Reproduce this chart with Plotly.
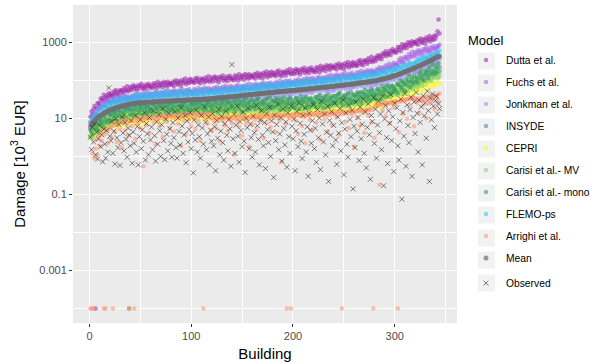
import plotly.graph_objects as go

# Modelled and observed damage per building [10^3 EUR], buildings sorted by mean damage
# (zero damage is stored as 0.0001 so that it can be shown on the log axis)

MEAN = [
    6.3, 7, 7.6, 8.2, 8.8, 9.4, 10, 10.6, 11, 11.6, 12, 12.6, 13, 13.6, 14, 14.6, 15, 15.6, 16, 16.6,
    17, 17.4, 17.8, 18.2, 18.6, 19, 19.4, 19.8, 20, 20.5, 21, 21.3, 21.6, 21.9, 22.2, 22.5, 22.8, 23, 23.4, 23.7,
    24, 24.2, 24.4, 24.6, 24.8, 25, 25.2, 25.4, 25.6, 25.8, 26, 26.1, 26.2, 26.3, 26.4, 26.5, 26.6, 26.7, 26.8, 26.9,
    27, 27.1, 27.2, 27.3, 27.4, 27.5, 27.6, 27.7, 27.8, 27.9, 28, 28.1, 28.2, 28.3, 28.4, 28.5, 28.6, 28.7, 28.8, 28.9,
    29, 29.1, 29.2, 29.3, 29.4, 29.5, 29.6, 29.7, 29.8, 29.9, 30, 30.1, 30.2, 30.3, 30.4, 30.5, 30.6, 30.7, 30.8, 30.9,
    31, 31.1, 31.2, 31.3, 31.4, 31.5, 31.6, 31.7, 31.8, 31.9, 32, 32.1, 32.2, 32.3, 32.4, 32.5, 32.6, 32.8, 33, 33.2,
    33.4, 33.6, 33.8, 34, 34.2, 34.4, 34.6, 34.8, 35, 35.2, 35.4, 35.6, 35.8, 36, 36.2, 36.4, 36.6, 36.8, 37, 37.2,
    37.4, 37.6, 37.8, 38, 38.3, 38.6, 38.9, 39.2, 39.5, 39.8, 40, 40.3, 40.6, 40.9, 41.2, 41.5, 41.8, 42, 42.3, 42.6,
    42.9, 43.2, 43.5, 43.8, 44, 44.3, 44.6, 44.9, 45.2, 45.5, 45.8, 46, 46.3, 46.6, 46.9, 47.2, 47.5, 47.8, 48, 48.3,
    48.6, 48.9, 49.2, 49.5, 49.8, 50, 50.3, 50.6, 50.9, 51.2, 51.5, 51.8, 52, 52.3, 52.6, 52.9, 53.2, 53.5, 53.8, 54,
    54.3, 54.6, 54.9, 55.2, 55.5, 55.8, 56, 56.4, 56.8, 57.2, 57.6, 58, 58.4, 58.8, 59.2, 59.6, 60, 60.4, 60.8, 61.2,
    61.6, 62, 62.4, 62.8, 63.2, 63.6, 64, 64.4, 64.8, 65.2, 65.6, 66, 66.5, 67, 67.5, 68, 68.5, 69, 69.5, 70,
    70.5, 71, 71.5, 72, 72.5, 73, 73.5, 74, 74.5, 75, 75.6, 76.2, 76.8, 77.4, 78, 78.6, 79.2, 79.8, 80.4, 81,
    81.7, 82.4, 83.1, 83.8, 84.5, 85.2, 85.9, 86.6, 87.3, 88, 88.8, 89.6, 90.4, 91.2, 92, 93, 94, 95, 96, 97,
    98, 99, 100, 101.5, 103, 104.5, 106, 107.5, 109, 111, 113, 115, 117, 119, 121, 123, 125, 127, 130, 133,
    136, 139, 142, 145, 148, 151, 155, 159, 163, 167, 171, 175, 179, 184, 189, 194, 199, 204, 209, 215,
    221, 227, 233, 240, 247, 254, 261, 268, 276, 284, 292, 301, 310, 320, 330, 340, 350, 362, 375, 390,
    400, 410, 420, 430,
]

DUTTA = [
    11, 15.1, 12.6, 17.3, 21.2, 0.0001, 18.5, 25.1, 25.3, 21.9, 33.4, 29.1, 34, 41.5, 30.1, 35.3, 40.7, 34.6, 45.6, 38,
    44.9, 40.8, 38.2, 51.1, 45.3, 55.6, 42.5, 49.6, 41.2, 55.6, 50, 55, 45.4, 63, 51.4, 56.2, 69.8, 51.1, 56.7, 66.6,
    54.6, 65, 73.8, 57.9, 69.9, 63.3, 53.5, 74.2, 62.9, 70.7, 80.8, 59, 68.3, 64, 77, 58.7, 71.8, 81.5, 69.4, 64.1,
    73, 62.5, 84.2, 69.9, 79.4, 61.8, 91, 74, 68.4, 85, 79.3, 65.7, 92.1, 75.2, 86, 69.7, 91.1, 74.6, 84.8, 81.2,
    76.4, 93.6, 70.8, 89.1, 100.9, 82.8, 76.4, 95.3, 89, 71.8, 102.7, 84.5, 93.3, 111.3, 79, 90.7, 102.4, 85.3, 110.4, 90.3,
    102.7, 91.7, 84.5, 111.3, 97.1, 117.3, 88.3, 101.7, 83.2, 110.8, 98.3, 106.9, 87, 119.2, 96.2, 103.9, 127.4, 92.3, 101.3, 117.7,
    93.3, 110.8, 125.3, 97.9, 117.8, 106.4, 89.5, 124, 104.7, 117.3, 133.6, 97.3, 112.3, 104.9, 125.9, 95.7, 116.7, 132.1, 112, 103.2,
    117, 100, 134.9, 111.8, 126.7, 98.6, 145, 117.8, 108.7, 135, 125.8, 104.1, 145.8, 118.9, 135.9, 110.1, 143.6, 117.5, 133.5, 127.7,
    119.6, 146.5, 110.5, 139, 157.2, 128.5, 118.5, 147.7, 137.7, 111, 158.6, 130.4, 143.7, 171.2, 121.3, 139, 156.9, 130.5, 168.7, 137.8,
    156.2, 139.7, 128.8, 170.5, 148.5, 179.9, 135.5, 156.1, 128, 170.5, 150.4, 163.8, 133.5, 183.3, 159.1, 161, 197.6, 143.4, 157.4, 183.2,
    146.1, 174, 197.1, 154.5, 186.5, 168.9, 142.4, 197.5, 167.3, 188, 214.3, 156.5, 181.2, 169.6, 203.9, 155.3, 189.9, 215.6, 183, 169.1,
    191, 163.9, 221.8, 184.6, 210.1, 163.9, 242, 197.4, 182.7, 227.8, 213.1, 177, 248.6, 203.6, 233.4, 189.5, 248.1, 203.7, 232.1, 222.8,
    207.9, 255.1, 192.9, 243, 275.2, 225.5, 208.3, 260, 242.7, 196.1, 280.5, 231, 254.9, 304.1, 216, 247.7, 280.1, 233.3, 302.1, 247,
    280.3, 253.6, 236.5, 315.4, 278.8, 340.9, 259.3, 302.2, 250, 336.7, 301.7, 331.6, 272.6, 377.7, 307.4, 335.4, 415.2, 303.8, 336.1, 394,
    316.8, 387.5, 450.8, 362.1, 447.4, 414.7, 357.4, 506.7, 438, 502.1, 583.6, 434, 511.6, 487.5, 595.8, 461.6, 573.3, 660.9, 569.8, 534,
    620, 544, 752, 639, 742, 590, 888, 737, 694, 880, 836, 706, 1006, 836, 972, 800, 1062, 883, 1019, 990,
    920, 1138, 867, 1099, 1254, 1036, 964, 1211, 1137, 925, 1332, 1104, 1225, 1470, 1050, 1212, 1378, 1154, 1502, 1235,
    1500, 1950, 4000, 1700,
]

FUCHS = [
    7.9, 10.4, 12.9, 10.9, 14.2, 13.7, 12.3, 18.1, 16.2, 19.6, 24, 18.3, 22, 21.4, 26.6, 21, 26.5, 31.1, 27.2, 25.8,
    30, 25.8, 34.8, 29, 33, 25.7, 37.9, 30.8, 28.6, 35.6, 33.3, 27.6, 38.8, 31.7, 36.4, 29.5, 38.6, 31.7, 36.1, 34.7,
    32.2, 39.5, 29.9, 37.7, 42.8, 35.1, 32.5, 40.5, 37.9, 30.6, 43.9, 36.2, 40, 47.7, 33.9, 38.9, 44.1, 36.8, 47.6, 39,
    43.9, 39.2, 36.1, 47.7, 41.7, 50.3, 37.9, 43.7, 35.8, 47.7, 42.3, 46.1, 37.6, 51.5, 41.6, 44.9, 55.1, 40, 43.9, 51.1,
    40.5, 48.2, 54.4, 42.6, 51.3, 46.4, 39, 54, 45.7, 51.3, 58.3, 42.5, 49.2, 45.9, 55.2, 41.9, 51.2, 58.1, 49.2, 45.4,
    51, 43.6, 58.7, 48.7, 55.2, 42.9, 63.1, 51.2, 47.3, 58.7, 54.7, 45.3, 63.4, 51.7, 59.1, 47.8, 62.4, 51.1, 57.9, 55.4,
    51.5, 63.1, 47.5, 59.6, 67.4, 55, 50.7, 63, 58.7, 47.3, 67.4, 55.4, 61, 72.5, 51.3, 58.7, 66.2, 55.1, 71, 58,
    65.3, 58.3, 53.7, 70.8, 61.9, 74.7, 56.2, 64.9, 53, 70.7, 62.8, 68.4, 55.6, 76.3, 61.6, 66.5, 81.6, 59.2, 64.9, 75.5,
    59.8, 71.2, 80.6, 63.2, 76.2, 69, 58.1, 80.6, 68.2, 76.6, 87.2, 63.7, 73.7, 69, 82.8, 63.1, 77.1, 87.5, 74.2, 68.5,
    78, 66.7, 89.9, 74.6, 84.7, 65.9, 97, 78.9, 72.8, 90.5, 84.4, 69.9, 97.9, 80, 91.4, 74, 96.7, 79.2, 90, 86.1,
    81, 99.2, 75, 94.4, 106.8, 87.6, 80.8, 100.7, 94, 75.9, 108.4, 89.2, 98.5, 117.4, 83.2, 95.6, 107.9, 89.8, 116.3, 95,
    107, 95.9, 88.7, 117.2, 102.8, 124.6, 94.1, 108.7, 89.3, 119.4, 106.2, 115.9, 94.7, 130.3, 105.4, 114.2, 140.5, 102.2, 112.4, 131,
    105.6, 125.8, 142.7, 113.8, 134.2, 122.5, 103.3, 143.5, 121.6, 135.7, 156, 114.1, 132, 123.7, 148.5, 113.4, 137.7, 158.7, 134.8, 123.7,
    140, 120.3, 162.9, 135.7, 154.7, 120.9, 178.6, 145.8, 135.1, 168.6, 157.8, 131.2, 184.5, 151.2, 173.4, 141, 184.9, 151.9, 173.2, 166.3,
    156.4, 195.1, 149.9, 191.7, 220.4, 183.5, 171.9, 217.5, 205.7, 168.4, 243.9, 203.3, 227.1, 274.1, 196.9, 228.5, 261.1, 219.9, 287.6, 237.5,
    278.2, 259, 248.2, 339.6, 307.4, 384.6, 298.9, 355.4, 299.6, 411.1, 374.7, 418.8, 349.9, 492.1, 406.2, 449.5, 563.8, 417.7, 467.9, 555,
    448.8, 541.3, 621.3, 492.9, 601.8, 551.3, 470, 659.6, 564.5, 641, 738.4, 544.4, 636.3, 601.5, 729.7, 561, 692, 792.4, 678.5, 631.9,
    740, 800, 760, 880,
]

JONKMAN = [
    5, 4.6, 6.6, 5.8, 7, 5.7, 8.9, 7.6, 7.3, 9.4, 9.1, 7.7, 11.2, 9.5, 11.1, 9.3, 12.4, 10.4, 12.2, 11.9,
    12.9, 16, 12.2, 15.5, 17.7, 14.7, 13.6, 17.2, 16.2, 13.2, 19, 15.8, 17.5, 21.1, 15.1, 17.4, 19.8, 16.7, 21.6, 17.9,
    21.9, 19.5, 17.8, 23.4, 20.3, 24.4, 18.2, 20.9, 17, 22.6, 19.9, 21.5, 17.4, 23.8, 19.1, 20.5, 25, 18, 19.7, 22.8,
    20.2, 23.9, 26.9, 20.9, 25.1, 22.5, 18.9, 26, 21.9, 24.4, 27.6, 20, 23, 21.4, 25.5, 19.3, 23.5, 26.5, 22.3, 20.5,
    25, 21.3, 28.5, 23.5, 26.5, 20.5, 30, 24.3, 22.3, 27.5, 25.5, 21, 29.3, 23.8, 27, 21.8, 28.3, 23, 26, 24.8,
    24.8, 30.2, 22.7, 28.4, 31.9, 25.9, 23.8, 29.4, 27.3, 21.9, 31, 25.4, 27.8, 32.9, 23.2, 26.5, 29.7, 24.6, 31.6, 25.7,
    32.1, 28.5, 26.1, 34.2, 29.7, 35.7, 26.7, 30.6, 24.9, 33, 29.1, 31.5, 25.5, 34.8, 27.9, 30, 36.6, 26.4, 28.8, 33.3,
    30.8, 36.4, 41, 31.9, 38.2, 34.3, 28.7, 39.6, 33.3, 37.1, 42, 30.5, 35, 32.6, 38.9, 29.4, 35.7, 40.3, 34, 31.2,
    40.5, 34.4, 46.2, 38.1, 42.9, 33.2, 48.6, 39.3, 36, 44.6, 41.3, 34, 47.4, 38.5, 43.7, 35.2, 45.8, 37.3, 42.1, 40.1,
    42.3, 51.5, 38.6, 48.3, 54.3, 44.2, 40.5, 50.1, 46.5, 37.3, 52.9, 43.2, 47.4, 56.1, 39.6, 45.1, 50.6, 41.9, 53.8, 43.7,
    55.6, 49.4, 45.2, 59.3, 51.5, 61.9, 46.3, 53, 43.2, 57.2, 50.4, 54.6, 44.2, 60.3, 48.4, 52, 63.4, 45.8, 49.9, 57.7,
    51.9, 61.4, 69, 53.7, 64.3, 57.8, 48.4, 66.7, 56, 62.5, 70.8, 51.3, 59, 54.9, 65.5, 49.6, 60.2, 67.9, 57.2, 52.5,
    68, 57.8, 77.5, 63.9, 72.1, 55.8, 81.6, 66, 60.5, 74.8, 69.4, 57.1, 79.6, 64.6, 73.4, 59.2, 76.8, 62.6, 70.7, 67.3,
    72.7, 88.5, 66.4, 83, 93.2, 75.8, 69.5, 86.1, 79.8, 64, 90.9, 74.3, 81.4, 96.4, 67.9, 77.4, 86.9, 71.9, 92.4, 75,
    90, 81.7, 76.6, 101, 90, 111, 84.6, 99, 81.3, 110, 99, 109, 90, 124, 101, 111, 138, 101, 111, 131,
    102, 125, 144, 116, 142, 131, 113, 159, 138, 157, 182, 136, 159, 152, 184, 143, 177, 204, 176, 164,
    185, 162, 225, 191, 222, 176, 265, 220, 207, 263, 250, 211, 301, 250, 291, 239, 318, 264, 305, 297,
    276, 358, 277, 357,
]

INSYDE = [
    3.4, 5.4, 3.2, 5.4, 7.4, 5.2, 4.6, 7.3, 6.6, 4.6, 9.6, 6.6, 8.3, 12, 6.2, 8.4, 10.9, 7.7, 13.2, 9,
    11.5, 9.2, 7.8, 13.8, 10.5, 15.5, 8.9, 11.9, 7.9, 14, 11.1, 13.2, 8.9, 16.7, 10.8, 12.9, 19.4, 10.2, 12.2, 16.7,
    11.3, 15.7, 19.7, 12, 17.3, 14.1, 9.9, 18.6, 13.1, 16.2, 20.9, 10.9, 14.5, 12.6, 17.8, 10.3, 15.2, 19.1, 13.8, 11.6,
    16.5, 11.9, 21.6, 14.5, 18.5, 11.1, 23.9, 15.7, 13.2, 20.1, 17.3, 11.6, 22.8, 14.9, 19.3, 12.5, 21, 13.9, 17.8, 16.2,
    14.9, 21.9, 12.3, 19.3, 24.5, 16.3, 13.7, 20.7, 17.9, 11.6, 23.3, 15.4, 18.7, 25.9, 13, 16.8, 21, 14.4, 23.8, 15.8,
    21.3, 16.7, 13.9, 24.1, 18.1, 26.3, 14.8, 19.4, 12.8, 22.2, 17.4, 20.4, 13.5, 25, 15.9, 18.7, 27.8, 14.4, 17, 22.9,
    15.2, 21.1, 26.5, 16.2, 23.2, 18.9, 13.3, 25, 17.6, 21.8, 28.1, 14.6, 19.5, 17, 24, 13.8, 20.5, 25.7, 18.5, 15.6,
    20.5, 14.8, 26.9, 18, 23, 13.7, 29.7, 19.5, 16.4, 25, 21.5, 14.4, 28.3, 18.5, 24, 15.6, 26, 17.2, 22.1, 20.1,
    18.4, 27.1, 15.2, 23.9, 30.4, 20.2, 16.9, 25.6, 22.1, 14.3, 28.9, 19.1, 23.2, 32.1, 16.1, 20.8, 26, 17.8, 29.5, 19.5,
    27.3, 21.3, 17.8, 30.8, 23.2, 33.7, 19, 24.9, 16.4, 28.4, 22.3, 26.1, 17.3, 32, 20.4, 23.9, 35.6, 18.5, 21.8, 29.4,
    19.7, 27.2, 34.3, 20.9, 30, 24.4, 17.1, 32.3, 22.7, 28.2, 36.3, 18.9, 25.2, 21.9, 31, 17.9, 26.5, 33.3, 23.9, 20.2,
    27.5, 19.8, 36, 24.2, 30.8, 18.4, 39.9, 26.1, 22, 33.6, 28.9, 19.3, 38, 24.8, 32.2, 20.9, 34.9, 23.1, 29.7, 27,
    26.4, 38.8, 21.7, 34.1, 43.4, 28.8, 24.2, 36.6, 31.6, 20.5, 41.2, 27.3, 33.2, 45.9, 22.9, 29.8, 37.2, 25.4, 42.2, 27.9,
    38, 30.1, 25.3, 44.3, 33.8, 49.4, 28.2, 37.4, 24.8, 43.6, 34.5, 40.7, 27.3, 51, 32.8, 38.9, 58.4, 30.7, 36.4, 49.6,
    32, 45, 57.8, 35.9, 52.2, 43.4, 30.9, 59.1, 42.2, 53.3, 69.7, 36.8, 49.8, 44, 63.1, 36.9, 55.4, 70.6, 51.6, 44,
    56, 41.4, 77.3, 53.3, 69.6, 42.6, 94.5, 63.4, 54.6, 85, 74.9, 51, 102.5, 68.3, 90.6, 60, 102, 68.9, 90.2, 83.3,
    74.8, 114, 66.2, 107.6, 141.4, 97, 83.9, 130.7, 116.3, 77.5, 160.4, 109, 136.1, 193, 98.9, 131.5, 168.2, 117.7, 199.5, 135,
    178, 144, 124, 221,
]

CEPRI = [
    3.7, 3.1, 2.8, 5.1, 4, 6.1, 3.7, 5, 3.5, 6.2, 5.2, 6.3, 4.3, 8.4, 5.5, 6.7, 10.2, 5.5, 6.7, 9.3,
    5.9, 8.2, 10.6, 6.6, 9.5, 8, 5.6, 10.8, 7.7, 9.7, 12.7, 6.7, 9.1, 8, 11.4, 6.7, 10.1, 12.8, 9.4, 8,
    10.5, 7.6, 13.8, 9.2, 11.8, 7, 15.2, 10, 8.4, 12.8, 11, 7.4, 14.5, 9.5, 12.3, 8, 13.3, 8.8, 11.3, 10.3,
    10.2, 15, 8.4, 13.2, 16.8, 11.2, 9.4, 14.2, 12.2, 7.9, 16, 10.6, 12.8, 17.8, 8.9, 11.5, 14.4, 9.8, 16.3, 10.8,
    14.4, 11.3, 9.4, 16.3, 12.3, 17.8, 10, 13.1, 8.6, 15, 11.8, 13.8, 9.1, 16.9, 10.8, 12.6, 18.8, 9.8, 11.5, 15.5,
    10.1, 14, 17.7, 10.8, 15.5, 12.6, 8.8, 16.6, 11.7, 14.6, 18.7, 9.8, 13, 11.3, 16, 9.2, 13.7, 17.2, 12.4, 10.4,
    13.5, 9.7, 17.7, 11.9, 15.1, 9, 19.6, 12.8, 10.8, 16.5, 14.2, 9.5, 18.6, 12.2, 15.8, 10.3, 17.1, 11.3, 14.6, 13.2,
    11.9, 17.5, 9.8, 15.4, 19.6, 13, 10.9, 16.5, 14.3, 9.2, 18.6, 12.3, 15, 20.7, 10.4, 13.4, 16.8, 11.5, 19, 12.6,
    17, 13.3, 11.1, 19.2, 14.5, 21, 11.8, 15.5, 10.2, 17.8, 13.9, 16.3, 10.8, 20, 12.7, 14.9, 22.2, 11.5, 13.6, 18.4,
    12.3, 17.1, 21.5, 13.1, 18.8, 15.3, 10.7, 20.2, 14.2, 17.7, 22.8, 11.9, 15.8, 13.7, 19.4, 11.2, 16.6, 20.9, 15, 12.6,
    16.8, 12.1, 22, 14.8, 18.8, 11.3, 24.4, 16, 13.4, 20.5, 17.6, 11.8, 23.2, 15.1, 19.7, 12.8, 21.3, 14.1, 18.1, 16.5,
    15.1, 22.3, 12.5, 19.6, 24.9, 16.6, 13.9, 21, 18.2, 11.7, 23.7, 15.7, 19, 26.3, 13.2, 17.1, 21.4, 14.6, 24.2, 16,
    23, 18, 15, 26, 19.6, 28.4, 16, 21, 13.8, 24, 18.8, 22, 14.6, 27, 17.2, 20.2, 30, 15.6, 18.4, 24.8,
    16.4, 23, 29.2, 18.1, 26.3, 21.6, 15.4, 29.2, 20.8, 26.2, 34, 17.9, 24.2, 21.2, 30.4, 17.7, 26.5, 33.7, 24.4, 20.8,
    27, 19.8, 36.5, 25, 32.4, 19.7, 43.2, 28.8, 24.6, 38.2, 33.3, 22.5, 45.1, 29.8, 39.3, 25.9, 43.9, 29.4, 38.3, 35.3,
    31.5, 47.6, 27.4, 44.3, 58, 39.5, 34, 52.7, 46.7, 31, 64, 43.3, 53.8, 76.1, 38.9, 51.5, 65.6, 45.8, 77.4, 52.2,
    69, 55.6, 47.8, 85.2, 66, 98.3, 56.8, 76.5, 51.5, 91.9, 73.7, 88.3, 59.9, 113, 73.8, 88.5, 134, 71.2, 85.7, 118,
    78, 108, 136, 83,
]

CARISI_MV = [
    3.1, 4.6, 6.3, 4, 6.1, 5.2, 3.9, 7.7, 5.6, 7.3, 9.8, 5.3, 7.3, 6.6, 9.7, 5.8, 8.9, 11.5, 8.6, 7.4,
    9.5, 7, 13, 8.9, 11.4, 7, 15.4, 10.3, 8.8, 13.7, 11.9, 8.1, 16.1, 10.7, 14.2, 9.3, 15.7, 10.6, 13.8, 12.7,
    12.8, 18.8, 10.5, 16.5, 21, 14, 11.7, 17.7, 15.3, 9.9, 20, 13.2, 16.1, 22.2, 11.1, 14.4, 18, 12.3, 20.4, 13.5,
    19.3, 15.1, 12.6, 21.8, 16.5, 23.9, 13.4, 17.6, 11.6, 20.2, 15.8, 18.5, 12.3, 22.7, 14.4, 17, 25.2, 13.1, 15.5, 20.8,
    13.9, 19.2, 24.2, 14.8, 21.2, 17.3, 12.1, 22.8, 16, 19.9, 25.6, 13.4, 17.8, 15.5, 21.9, 12.6, 18.7, 23.5, 16.9, 14.2,
    18.7, 13.5, 24.5, 16.5, 20.9, 12.5, 27.1, 17.8, 15, 22.8, 19.6, 13.1, 25.8, 16.8, 21.9, 14.2, 23.7, 15.7, 20.2, 18.3,
    16.3, 24, 13.4, 21.1, 26.9, 17.9, 15, 22.7, 19.6, 12.7, 25.5, 16.9, 20.5, 28.4, 14.2, 18.4, 23, 15.7, 26.1, 17.3,
    22.8, 17.8, 14.9, 25.7, 19.4, 28.1, 15.8, 20.8, 13.7, 23.8, 18.6, 21.8, 14.5, 26.7, 17, 20, 29.7, 15.4, 18.2, 24.6,
    16.2, 22.5, 28.3, 17.3, 24.8, 20.2, 14.1, 26.6, 18.7, 23.3, 30, 15.6, 20.8, 18.1, 25.6, 14.8, 21.8, 27.5, 19.8, 16.6,
    21.8, 15.7, 28.6, 19.2, 24.4, 14.6, 31.6, 20.7, 17.4, 26.6, 22.9, 15.3, 30.1, 19.6, 25.5, 16.6, 27.7, 18.3, 23.5, 21.4,
    19.6, 28.8, 16.1, 25.3, 32.2, 21.4, 17.9, 27.1, 23.5, 15.2, 30.6, 20.2, 24.6, 34, 17, 22.1, 27.6, 18.9, 31.3, 20.7,
    28.8, 22.5, 18.8, 32.5, 24.5, 35.5, 20, 26.3, 17.3, 30, 23.5, 27.5, 18.3, 33.8, 21.5, 25.3, 37.5, 19.5, 23, 31,
    21.8, 30.2, 38.1, 23.2, 33.3, 27.2, 19, 35.8, 25.2, 31.4, 40.3, 21, 28, 24.4, 34.4, 19.9, 29.4, 37, 26.6, 22.4,
    31, 22.6, 41.5, 28.2, 36.4, 22, 48.1, 31.9, 27.1, 41.8, 36.4, 24.6, 48.9, 32.2, 42.4, 27.7, 46.9, 31.3, 40.6, 37.2,
    33.2, 49.6, 28.3, 45.2, 58.4, 39.4, 33.6, 51.7, 45.4, 29.8, 60.9, 40.9, 50.5, 70.9, 36, 47.3, 59.9, 41.5, 69.8, 46.8,
    62.1, 49.9, 42.5, 75.5, 58.3, 86.3, 49.8, 66.8, 44.8, 79.6, 63.6, 76, 51.4, 96.9, 63, 75.2, 113.9, 60.3, 72.3, 99.2,
    64, 92.4, 121.3, 76.9, 114.6, 96.9, 70.4, 137, 99.5, 127.9, 169.6, 91, 125, 111.8, 162.5, 96.3, 146.3, 188.6, 139.1, 120,
    155, 114, 205, 139,
]

CARISI_MONO = [
    5.2, 4.3, 3.8, 7.2, 5.7, 8.7, 5.1, 7, 4.8, 8.9, 7.2, 8.8, 6.1, 11.6, 7.7, 9.4, 14.4, 7.7, 9.4, 13.1,
    8.5, 12.1, 15.5, 9.7, 14.2, 11.8, 8.5, 16.3, 11.7, 14.9, 19.4, 10.4, 14, 12.4, 18, 10.5, 15.9, 20.3, 0.0001, 12.7,
    17.2, 12.4, 22.5, 15.1, 19.3, 11.5, 24.9, 16.3, 13.8, 21, 18.1, 12, 23.7, 15.5, 20.1, 13.1, 21.8, 14.4, 18.6, 16.9,
    16.4, 24.1, 13.5, 21.2, 27, 17.9, 15.1, 22.8, 19.7, 12.7, 25.7, 17, 20.7, 28.6, 14.3, 18.5, 23.2, 15.8, 26.2, 17.4,
    23.3, 18.3, 15.2, 26.4, 19.9, 28.8, 16.2, 21.3, 14, 24.4, 19.1, 22.3, 14.8, 27.4, 17.5, 20.5, 30.5, 15.8, 18.7, 25.2,
    16.5, 22.9, 28.8, 17.6, 25.2, 20.6, 14.4, 27.1, 19.1, 23.7, 30.5, 15.9, 21.2, 18.4, 26.1, 15.1, 22.3, 28, 20.1, 17,
    22, 15.8, 28.8, 19.4, 24.6, 14.7, 31.9, 20.9, 17.6, 26.8, 23.1, 15.4, 30.4, 19.8, 25.7, 16.7, 27.9, 18.5, 23.8, 21.6,
    19.5, 28.6, 16, 25.2, 32.1, 21.3, 17.9, 27, 23.4, 15.1, 30.5, 20.2, 24.5, 33.9, 16.9, 22, 27.5, 18.8, 31.1, 20.6,
    27.4, 21.4, 17.9, 30.9, 23.3, 33.8, 19, 25, 16.4, 28.6, 22.4, 26.2, 17.4, 32.1, 20.5, 24, 35.7, 18.6, 21.9, 29.5,
    19.4, 26.9, 33.9, 20.7, 29.6, 24.2, 16.9, 31.9, 22.4, 27.9, 35.9, 18.7, 24.9, 21.7, 30.6, 17.7, 26.1, 32.9, 23.7, 19.9,
    26.2, 18.9, 34.3, 23.1, 29.3, 17.6, 38, 24.9, 21, 32, 27.5, 18.3, 36.2, 23.6, 30.7, 19.9, 33.3, 22, 28.3, 25.7,
    24.3, 35.8, 20, 31.5, 40, 26.6, 22.3, 33.7, 29.2, 18.9, 38, 25.2, 30.6, 42.3, 21.2, 27.5, 34.3, 23.5, 38.9, 25.7,
    37.5, 29.3, 24.5, 42.4, 31.9, 46.3, 26.1, 34.2, 22.5, 39.1, 30.6, 35.9, 23.8, 44, 28, 32.9, 48.9, 25.4, 30, 40.4,
    27.3, 38.2, 48.7, 30.1, 43.7, 36, 25.5, 48.5, 34.6, 43.5, 56.4, 29.7, 40.1, 35.2, 50.3, 29.3, 43.8, 55.7, 40.5, 34.4,
    43, 31.6, 58.7, 40.2, 52.2, 31.8, 70.2, 46.8, 40.2, 62.3, 54.6, 37, 74.2, 49.1, 64.9, 42.9, 72.8, 48.9, 63.8, 58.8,
    52.7, 80, 46.2, 74.8, 98, 67, 57.7, 89.7, 79.6, 52.8, 109, 73.9, 92, 130, 66.6, 88.3, 112.8, 78.7, 133.3, 90,
    120.8, 98.6, 85.4, 153.9, 120.4, 180.9, 105.4, 143.1, 97.2, 174.4, 140.7, 169.6, 115.9, 220.3, 144.1, 173.8, 264.9, 141.3, 170.7, 235.6,
    156, 216, 279, 174,
]

FLEMO_PS = [
    8, 10, 7.5, 12, 11, 9.5, 14, 13, 17, 12, 19, 16, 21, 15, 23, 18, 20, 25, 19, 22,
    24, 28, 21, 31, 26, 23, 33, 27, 30, 25, 35, 29, 24, 32, 37, 28, 26, 34, 31, 29,
    33, 39, 30, 36, 42, 31, 35, 40, 29, 44, 34, 37, 32, 41, 46, 33, 38, 35, 43, 36,
    37, 44, 34, 41, 48, 36, 40, 45, 33, 50, 39, 42, 35, 47, 52, 38, 43, 36, 49, 41,
    39, 46, 36, 43, 51, 38, 42, 48, 35, 53, 41, 45, 37, 50, 55, 40, 46, 39, 52, 44,
    42, 49, 38, 46, 54, 40, 45, 51, 37, 56, 43, 48, 39, 53, 58, 42, 49, 41, 55, 47,
    45, 53, 41, 49, 58, 43, 48, 55, 40, 61, 47, 52, 43, 57, 63, 46, 53, 45, 60, 51,
    51, 60, 47, 56, 66, 49, 55, 62, 46, 69, 54, 59, 50, 65, 72, 53, 61, 52, 68, 58,
    59, 69, 54, 64, 75, 56, 63, 71, 53, 79, 61, 67, 57, 74, 82, 60, 70, 59, 78, 66,
    66, 77, 61, 72, 84, 63, 71, 80, 59, 88, 69, 76, 64, 83, 91, 68, 79, 67, 87, 74,
    74, 87, 68, 81, 95, 71, 80, 90, 66, 99, 78, 85, 72, 94, 103, 77, 89, 76, 98, 84,
    84, 99, 77, 92, 108, 81, 91, 102, 76, 113, 89, 97, 83, 107, 118, 88, 101, 86, 112, 96,
    97, 114, 89, 106, 124, 93, 105, 118, 87, 130, 102, 111, 95, 123, 136, 101, 117, 99, 129, 112,
    114, 134, 104, 124, 146, 109, 123, 139, 102, 153, 120, 131, 112, 145, 160, 119, 138, 117, 152, 133,
    136, 162, 128, 152, 178, 135, 153, 172, 130, 192, 154, 168, 145, 186, 205, 156, 180, 153, 198, 184,
    188, 220, 176, 212, 245, 190, 216, 240, 185, 270, 222, 245, 210, 268, 295, 232, 262, 228, 290, 275,
    305, 350, 290, 340, 390, 315, 355, 395, 320, 430, 370, 400, 350, 440, 480, 390, 450, 400, 490, 470,
    500, 560, 480, 600,
]

ARRIGHI = [
    0.0001, 0.0001, 1.2, 0.0001, 0.9, 1.6, 2.8, 1.1, 3.5, 1.9, 4.2, 2.6, 5.1, 0.0001, 3.8, 0.0001, 4.7, 2.2, 6, 5.3,
    5.8, 3.1, 0.0001, 6.5, 4.4, 7.2, 2.4, 6.8, 7.9, 5.2, 8.4, 1.7, 7.5, 8.8, 4.9, 9.2, 7, 3.6, 0.0001, 8.5,
    8.9, 6.2, 9.6, 0.0001, 2.9, 8.3, 10.1, 7.4, 9.8, 5.5, 10.5, 8.7, 0.55, 9.3, 10.8, 6.6, 9.9, 11.1, 4.1, 10.2,
    9.7, 11.3, 7.8, 10.4, 2.1, 11.6, 9.1, 10.9, 6.1, 11.9, 10.2, 3.3, 11.2, 9.5, 12.1, 8.2, 10.7, 12.4, 5.6, 11.5,
    10.6, 12.3, 4.5, 11.4, 9.8, 12.6, 7.1, 11.7, 10.3, 1.9, 12.8, 11, 8.6, 12.1, 3.9, 11.6, 13, 9.3, 12.4, 6.4,
    11.3, 12.9, 10.1, 5.2, 12.2, 13.3, 8.8, 11.8, 2.6, 13.1, 11.5, 0.0001, 12.6, 9.7, 13.5, 7.3, 12.3, 11.1, 13.7, 4.8,
    9.6, 10.7, 7.9, 10.2, 5.4, 11, 9.3, 2.5, 10.6, 9.9, 8.5, 11.2, 6.5, 10.2, 10.9, 4.7, 9.7, 11.4, 9, 7.4,
    10.4, 1.1, 10, 11.4, 8.7, 11, 6.1, 10.3, 11.6, 3.5, 10.6, 9.6, 11.8, 7.6, 11.1, 9.1, 1.8, 11.3, 10.2, 6.7,
    10.8, 11.8, 9.4, 5, 11.4, 10.5, 12, 8.3, 10.1, 11.7, 3, 11, 12.2, 7.3, 11.2, 9.8, 12.3, 5.8, 10.9, 11.9,
    10.3, 12.4, 4.3, 11.5, 10.6, 12.6, 9, 11.8, 0.72, 12.1, 11, 12.7, 7.1, 0.0001, 11.4, 12.2, 10, 0.0001, 12.8, 11.8,
    11.1, 13, 8.6, 12.3, 3.9, 13.1, 11.3, 12.6, 6.3, 13.3, 10.7, 2.2, 12.8, 12, 13.4, 9.4, 11.7, 13.6, 4.8, 12.9,
    12.2, 13.8, 7.7, 13.2, 11.4, 14, 2.7, 13.4, 12.6, 14.2, 9.8, 13, 14.3, 4.6, 13.5, 12.1, 14.6, 6.8, 13.8, 13.1,
    12.8, 14.7, 10.9, 14.1, 3.7, 15, 13.3, 0.0001, 14.4, 15.2, 13.7, 8.2, 14.8, 15.4, 5.5, 14.2, 15.7, 12.4, 15.1, 1.8,
    14.6, 16, 10.2, 15.5, 16.4, 6.5, 15.2, 16.8, 14.1, 4.1, 16.2, 17.2, 15.8, 11.9, 17.6, 16.6, 7.8, 18.1, 0.0001, 3.1,
    21.3, 22.9, 21.7, 23.6, 0.18, 22.4, 24.3, 16.4, 23.2, 25, 11.5, 24.1, 25.8, 24.7, 7.4, 26.5, 25.4, 27.3, 19.6, 26.1,
    28, 26.8, 0.0001, 4.3, 29, 27.9, 30.2, 13.2, 29.1, 31.5, 30.4, 9.7, 32.8, 31.6, 22.4, 34.2, 33, 35.6, 6.2, 34.3,
    30, 27, 33, 14, 31, 35, 29, 22, 36, 32, 10, 38, 34, 26, 25, 39, 31, 36, 18, 40,
    37, 42, 28, 45,
]

OBSERVED = [
    3.2, 1.5, 5.8, 2.4, 7.1, 1.1, 4.3, 0.85, 2.9, 6.4, 1.8, 3.7, 0.72, 5.2, 2.1, 0.9, 4.8, 1.3, 63, 3.4,
    2.6, 8.3, 1.2, 4.6, 0.63, 9.8, 3.1, 1.7, 6.9, 0.58, 2.3, 11, 4.1, 1.4, 7.8, 2.8, 0.95, 5.5, 3.6, 1.9,
    8.8, 0.66, 4.4, 2.2, 12, 1.3, 6.1, 0.6, 3.3, 9.2, 1.6, 5, 2.5, 14, 0.8, 7.3, 3.9, 1.1, 10.5, 2.7,
    5.9, 1.5, 16, 3.5, 0.75, 8.1, 2.1, 12.5, 4.7, 1, 6.8, 18, 2.6, 0.82, 9.6, 3.8, 1.4, 13.5, 5.3, 2.2,
    0.95, 7.7, 3.1, 15, 1.7, 0.9, 10.2, 4.5, 2, 19, 6.3, 1.2, 3.7, 11.8, 0.68, 8.5, 2.4, 5.1, 14.2, 1.6,
    4, 0.37, 9, 2.7, 16.5, 1.3, 6.7, 3.3, 0.9, 12, 5.6, 2.1, 20, 7.9, 1.5, 3.9, 10.8, 0.6, 4.9, 2.5,
    13.2, 1.9, 6, 0.42, 8.8, 3, 17, 1.1, 4.6, 11.2, 2.3, 0.8, 7.2, 15.5, 3.6, 1.4, 9.4, 5.3, 0.55, 260,
    2.9, 12.8, 1.2, 6.6, 21, 3.4, 0.7, 8.2, 4.8, 1.8, 14.5, 2.5, 0.38, 10, 5.7, 18.5, 1.6, 7.1, 3.1, 0.95,
    11.5, 4.2, 1.3, 22, 6.4, 2.8, 0.6, 9.1, 16, 3.6, 1.9, 7.8, 0.48, 13.2, 5, 2.3, 19.5, 1, 8.6, 4.4,
    0.28, 12.2, 2.6, 6.9, 24, 1.5, 3.9, 10.4, 0.75, 17.5, 5.4, 2, 8.1, 0.52, 14, 3.3, 1.2, 21, 6.2, 2.9,
    9.5, 0.42, 4.7, 15.2, 1.8, 26, 7.4, 2.5, 0.88, 11.8, 3.8, 19, 1.3, 6, 0.3, 13.6, 4.9, 2.2, 8.7, 23,
    1.6, 5.5, 0.7, 17, 3.1, 10.2, 0.45, 28, 7.1, 2.4, 12.9, 1.1, 4.3, 20.5, 0.22, 8.8, 3.6, 15, 1.9, 6.5,
    25, 2.7, 0.62, 11, 4.1, 18.2, 1.4, 7.7, 30, 0.33, 5.2, 13.8, 2.1, 0.95, 22, 9.3, 3.3, 16.4, 0.14, 6.2,
    1.7, 27, 4.6, 10.6, 0.78, 19.8, 2.9, 7, 32, 1.2, 14.8, 0.5, 5.8, 24, 3.7, 0.25, 11.9, 8.3, 35, 2.2,
    17.5, 0.9, 6.7, 28.5, 4.2, 13, 1.5, 38, 0.17, 9.6, 21.5, 3.1, 0.65, 15.8, 7.4, 42, 2.6, 11, 0.4, 25,
    5.3, 19, 1.9, 0.8, 8.6, 32, 0.075, 14.2, 3.4, 45, 0.55, 22.5, 6.5, 2.3, 17, 36, 0.3, 10.5, 27, 4,
    48, 13.5, 1.3, 30, 7.8, 20, 0.6, 39, 11.6, 25.5, 3, 52, 16, 0.22, 34, 9.2, 44, 21, 5.7, 29,
    38, 13, 24, 18,
]

MODELS = [
    ("Dutta et al.", DUTTA, "#9B1FA8"),
    ("Fuchs et al.", FUCHS, "#A45EE5"),
    ("Jonkman et al.", JONKMAN, "#9F8FEF"),
    ("INSYDE", INSYDE, "#4682B4"),
    ("CEPRI", CEPRI, "#FFFF00"),
    ("Carisi et al.- MV", CARISI_MV, "#7CD67C"),
    ("Carisi et al.- mono", CARISI_MONO, "#2E9B4E"),
    ("FLEMO-ps", FLEMO_PS, "#33BBEE"),
    ("Arrighi et al.", ARRIGHI, "#FF9070"),
    ("Mean", MEAN, "#707070"),
]

fig = go.Figure()

for name, vals, col in MODELS:
    fig.add_trace(go.Scatter(
        x=list(range(1, len(vals) + 1)), y=vals, mode="markers", name=name,
        legendgroup=name,
        marker=dict(size=5 if name == "Mean" else 4.5, color=col,
                    opacity=0.7 if name == "Mean" else 0.55, line=dict(width=0)),
    ))

fig.add_trace(go.Scatter(
    x=list(range(1, len(OBSERVED) + 1)), y=OBSERVED, mode="markers", name="Observed",
    legend="legend2",
    marker=dict(symbol="x-thin", size=5, color="rgba(40,40,40,0.6)",
                line=dict(width=1, color="rgba(40,40,40,0.6)")),
))

# grey legend key backgrounds, like ggplot
key_centres = [61, 83, 105, 127, 149, 171, 193, 215, 238, 260, 283]
shapes = []
for yc in key_centres:
    shapes.append(dict(type="rect", xref="paper", yref="paper",
                       x0=(478 - 73) / 384, x1=(495 - 73) / 384,
                       y0=(323 - yc - 8.5) / 318, y1=(323 - yc + 8.5) / 318,
                       fillcolor="#F2F2F2", line=dict(width=0), layer="below"))

fig.update_layout(
    width=600, height=364,
    margin=dict(l=73, r=143, t=5, b=41, autoexpand=False),
    paper_bgcolor="white",
    plot_bgcolor="#EBEBEB",
    font=dict(family="Liberation Sans, Arial, sans-serif", color="black"),
    shapes=shapes,
    legend=dict(
        title=dict(text="Model", font=dict(size=13)),
        x=1.0234, y=0.926, xanchor="left", yanchor="top",
        font=dict(size=10.3), tracegroupgap=3, itemsizing="trace",
        bgcolor="rgba(0,0,0,0)",
    ),
    legend2=dict(
        x=1.0234, y=0.171, xanchor="left", yanchor="top",
        font=dict(size=10.3), itemsizing="trace", bgcolor="rgba(0,0,0,0)",
    ),
)

fig.update_xaxes(
    range=[-16.15, 361.15], tickvals=[0, 100, 200, 300],
    ticks="outside", ticklen=3, tickcolor="#333333",
    tickfont=dict(size=11, color="#4D4D4D"),
    gridcolor="white", gridwidth=1.1, zeroline=False, showline=False,
    minor=dict(tickvals=[50, 150, 250, 350], showgrid=True, gridcolor="white", gridwidth=0.5, ticks=""),
    title=dict(text="Building", font=dict(size=15), standoff=7),
)

fig.update_yaxes(
    type="log", range=[-4.38, 3.98],
    tickvals=[0.001, 0.1, 10, 1000], ticktext=["0.001", "0.1", "10", "1000"],
    ticks="outside", ticklen=3, tickcolor="#333333",
    tickfont=dict(size=11, color="#4D4D4D"),
    gridcolor="white", gridwidth=1.1, zeroline=False, showline=False,
    minor=dict(tickvals=[0.0001, 0.01, 1, 100, 10000], showgrid=True, gridcolor="white", gridwidth=0.5, ticks=""),
    title=dict(text="Damage [10<sup>3</sup> EUR]", font=dict(size=15), standoff=10),
)

# the page's default 8px body margin would shift the 600x364 figure
fig.write_html("out.html", config={"displayModeBar": False},
               post_script="document.body.style.margin='0px';")
